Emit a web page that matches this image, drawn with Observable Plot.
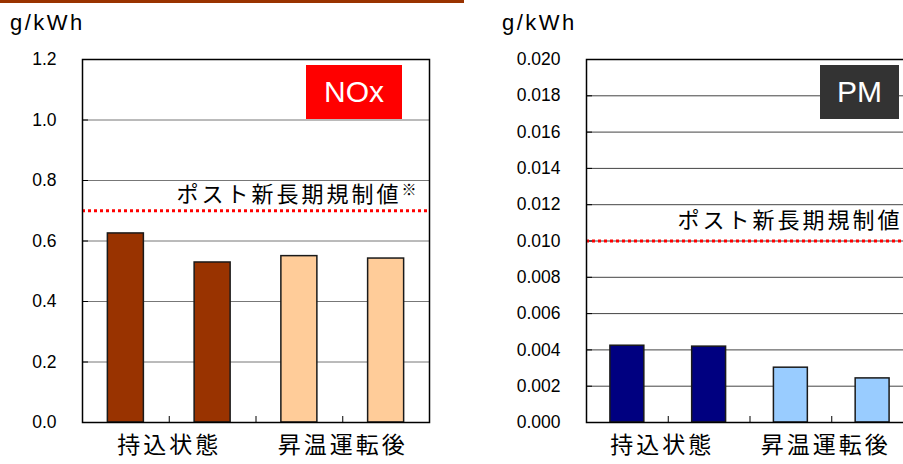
<!DOCTYPE html>
<html>
<head>
<meta charset="utf-8">
<script src="https://cdn.jsdelivr.net/npm/d3@7"></script>
<script src="https://cdn.jsdelivr.net/npm/@observablehq/plot@0.6"></script>
<style>
  html, body { margin: 0; padding: 0; background: #fff; }
  #page { position: relative; width: 903px; height: 464px; overflow: hidden; font-family: "Liberation Sans", Arial, sans-serif; }
  .topbar { position: absolute; left: 0; top: 0; width: 464px; height: 3px; background: #993300; }
  .unit { position: absolute; top: 12px; font-size: 22px; line-height: 22px; color: #000; letter-spacing: 2.5px; }
  .panel { position: absolute; top: 44px; }
  .panel svg { max-width: none !important; }
  .badge { position: absolute; top: 65px; height: 54px; color: #fff; font-size: 30px; display: flex; align-items: center; justify-content: center; }
</style>
</head>
<body>
<div id="page">
  <div class="topbar"></div>
  <div class="unit" style="left:10px">g/kWh</div>
  <div class="unit" style="left:502px">g/kWh</div>
  <div class="panel" id="nox" style="left:0px; width:445px"></div>
  <div class="panel" id="pm" style="left:500px; width:430px"></div>
  <div class="badge" style="left:306px; width:96px; background:#ff0000">NOx</div>
  <div class="badge" style="left:820px; width:79px; background:#333333">PM</div>
</div>
<script>
// ---- data ----
const bars = ["b1", "b2", "b3", "b4"];
const groups = ["持込状態", "昇温運転後"];
const noxValues = [0.625, 0.529, 0.550, 0.542];
const pmValues = [0.00423, 0.00418, 0.00302, 0.00243];
const noxColors = ["#993300", "#993300", "#FFCC99", "#FFCC99"];
const pmColors = ["#000080", "#000080", "#99CCFF", "#99CCFF"];
const noxLimit = 0.7;
const pmLimit = 0.010;
const noxTicks = [0, 0.2, 0.4, 0.6, 0.8, 1.0, 1.2];
const pmTicks = [0, 0.002, 0.004, 0.006, 0.008, 0.010, 0.012, 0.014, 0.016, 0.018, 0.020];
const noxLimitLabel = "ポスト新長期規制値※";
const pmLimitLabel = "ポスト新長期規制値";

const cjkFont = '"Noto Sans CJK JP", "Noto Sans CJK SC", sans-serif';
const latinFont = '"Liberation Sans", Arial, sans-serif';

function panel({values, colors, limit, limitLabel, ticks, digits, width, ml, mr, labelDx, labelDy, groupDx, gridColor}) {
  const height = 420, mt = 15, mb = 42;
  const step = (width - ml - mr) / bars.length;
  const plotH = height - mt - mb;
  const yMax = ticks[ticks.length - 1];
  const data = bars.map((b, i) => ({bar: b, value: values[i], color: colors[i]}));
  const svg = Plot.plot({
    width, height,
    marginLeft: ml, marginRight: mr, marginTop: mt, marginBottom: mb,
    style: {fontFamily: latinFont, fontSize: "17.5px", color: "#000", background: "transparent", overflow: "visible", maxWidth: "none"},
    x: {domain: bars, paddingInner: 0.585, paddingOuter: 0.2925, round: false, axis: null},
    y: {domain: [0, yMax], axis: null},
    color: {type: "identity"},
    marks: [
      Plot.ruleY(ticks.slice(1, -1), {stroke: gridColor, strokeWidth: 1}),
      Plot.axisY(ticks, {label: null, tickSize: 0, tickPadding: 26, tickFormat: d => d.toFixed(digits), fill: "#000"}),
      Plot.axisY(ticks, {label: null, tickSize: 6, dx: 6, tickFormat: () => "", stroke: "#000", strokeOpacity: 1}),
      Plot.ruleX(bars.slice(0, -1), {x: d => d, dx: step / 2, y1: 0, y2: yMax * 6 / plotH, stroke: "#000"}),
      Plot.barY(data, {x: "bar", y: "value", fill: "color", stroke: "#1a1a1a", strokeWidth: 1.5}),
      Plot.ruleY([limit], {stroke: "#ff0000", strokeWidth: 3, strokeDasharray: "3,3"}),
      Plot.text([limit], {y: d => d, text: () => limitLabel, frameAnchor: "right", textAnchor: "end",
        dx: labelDx, dy: labelDy, fontSize: 22, fontFamily: cjkFont, fill: "#000"}),
      Plot.frame({stroke: "#000", strokeWidth: 1.5}),
      Plot.text(groups, {x: (d, i) => bars[i * 2], dx: step / 2 + groupDx, frameAnchor: "bottom", dy: 30,
        text: d => d, fontSize: 23, fontFamily: cjkFont, fill: "#000"})
    ]
  });
  const cjk = d3.select(svg).selectAll("text").filter(function() { return /[\u3000-\u9fff]/.test(this.textContent); });
  cjk.attr("letter-spacing", "3px");
  // render the reference mark "※" small and raised, as in the original
  cjk.filter(function() { return this.textContent.includes("※"); }).each(function() {
    const el = d3.select(this);
    const target = el.select("tspan").empty() ? el : el.select("tspan");
    const full = target.text();
    const [main] = full.split("※");
    target.text(null);
    target.append("tspan").text(main);
    target.append("tspan").attr("font-size", 15).attr("dy", "-0.45em").attr("letter-spacing", "0px").text("※");
  });
  return svg;
}

document.getElementById("nox").appendChild(panel({
  values: noxValues, colors: noxColors, limit: noxLimit, limitLabel: noxLimitLabel, ticks: noxTicks, digits: 1,
  width: 445, ml: 82, mr: 16, labelDx: -13, labelDy: -16, groupDx: 0, gridColor: "#777"
}));
document.getElementById("pm").appendChild(panel({
  values: pmValues, colors: pmColors, limit: pmLimit, limitLabel: pmLimitLabel, ticks: pmTicks, digits: 3,
  width: 430, ml: 86, mr: 17, labelDx: -11, labelDy: -20, groupDx: -6, gridColor: "#444"
}));
</script>
</body>
</html>
